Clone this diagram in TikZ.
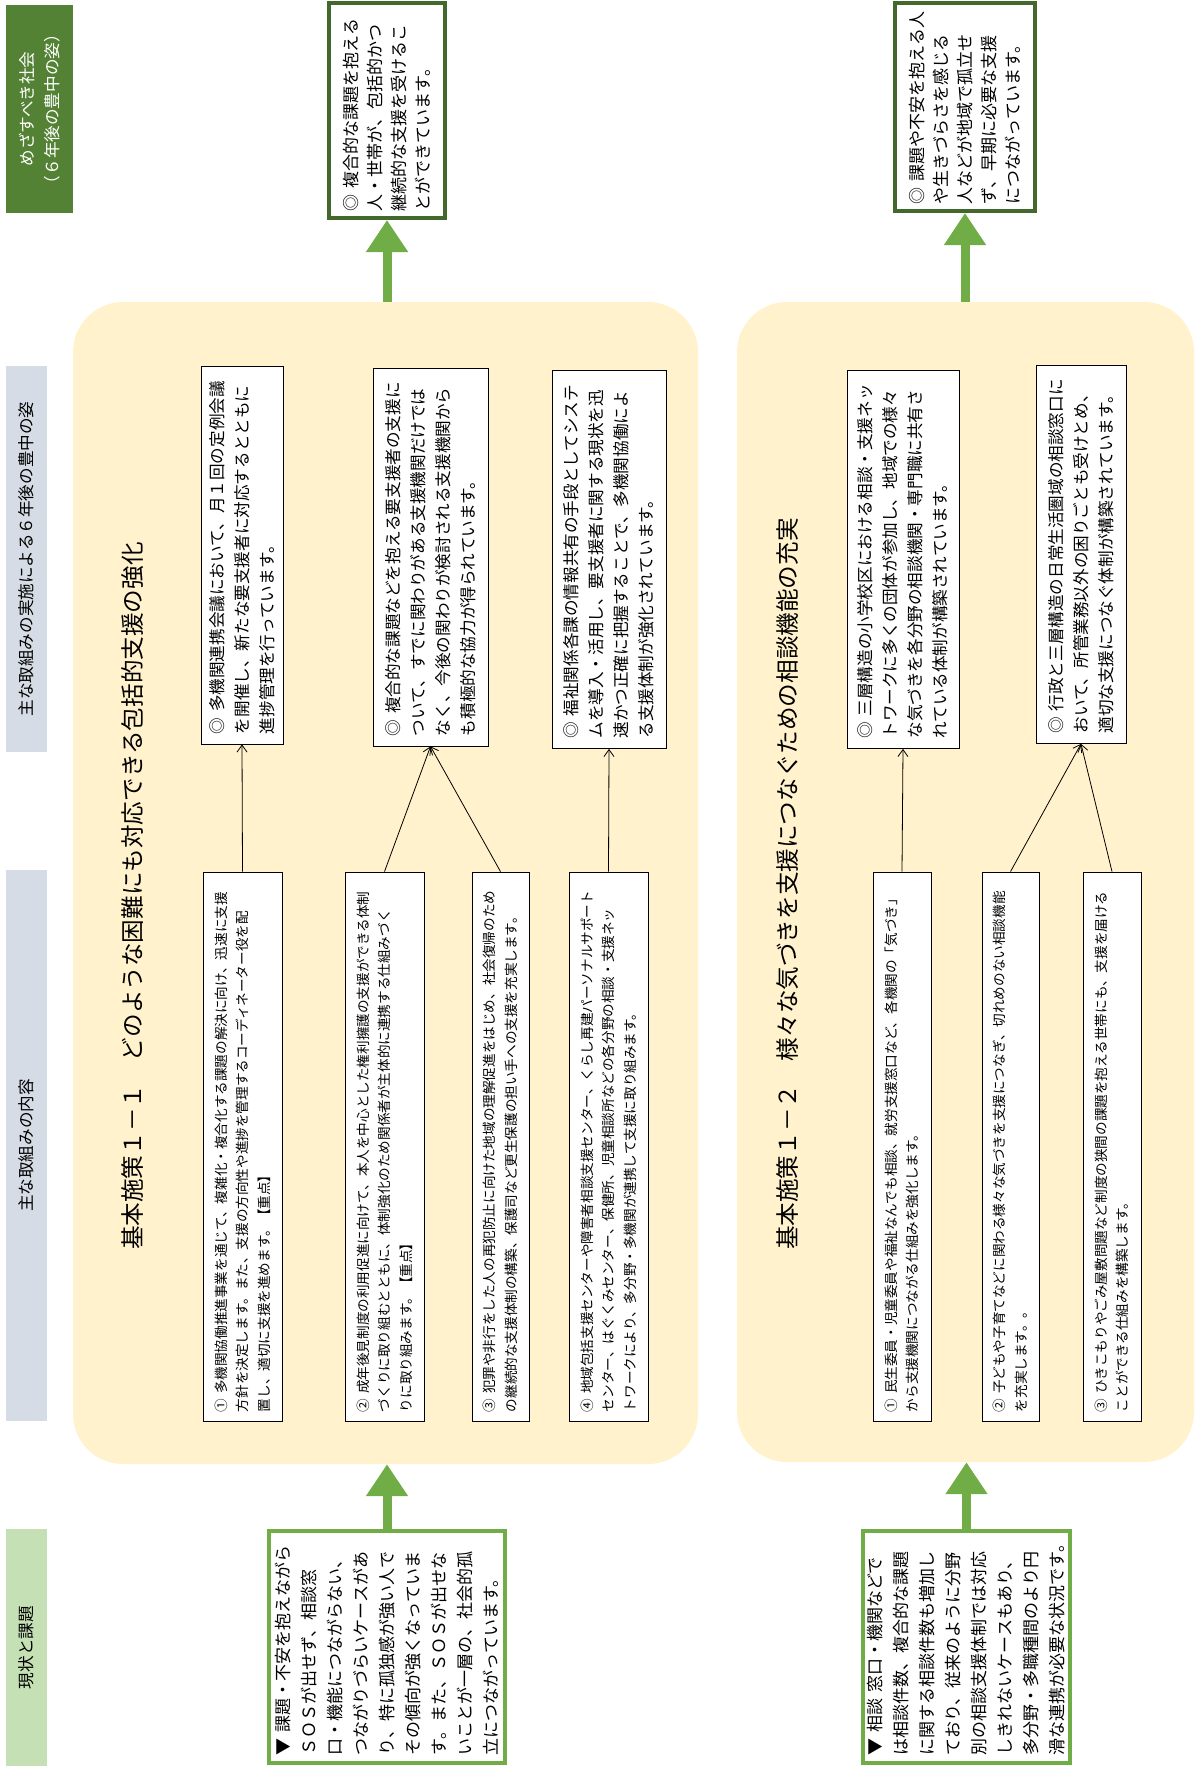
\documentclass[tikz,border=0pt]{standalone}
\usepackage{fontspec}
\setmainfont{Noto Sans CJK JP}
\usetikzlibrary{arrows.meta}
\definecolor{goalgreen}{HTML}{548235}
\definecolor{boxgreen}{HTML}{43682B}
\definecolor{arrowgreen}{HTML}{70AD47}
\definecolor{headblue}{HTML}{D6DCE5}
\definecolor{headgreen}{HTML}{C5E0B4}
\definecolor{panelyellow}{HTML}{FFF2CC}
\tikzset{
  hdr/.style={rotate=90, inner sep=0pt, align=center, font=\fontsize{16.6pt}{25pt}\selectfont},
  panel/.style={fill=panelyellow, rounded corners=50pt, inner sep=0pt},
  sectitle/.style={rotate=90, anchor=west, inner sep=0pt, font=\fontsize{23.6pt}{28pt}\selectfont},
  resbox/.style={draw, fill=white, line width=0.8pt, rotate=90, align=left, inner xsep=10pt, inner ysep=4pt,
    text width=358pt, minimum width=378pt, font=\fontsize{16.6pt}{25pt}\selectfont},
  actbox/.style={draw, fill=white, line width=0.8pt, rotate=90, align=left, inner xsep=9pt, inner ysep=4pt,
    text width=531pt, minimum width=549pt, font=\fontsize{13.6pt}{21.5pt}\selectfont},
  goalbox/.style={draw=boxgreen, line width=4pt, fill=white, rotate=90, align=left, inner xsep=7pt, inner ysep=4pt,
    font=\fontsize{17pt}{24pt}\selectfont},
  nowbox/.style={draw=arrowgreen, line width=3.5pt, fill=white, rotate=90, align=left, inner xsep=8pt, inner ysep=4pt,
    text width=216pt, minimum width=232pt, font=\fontsize{17pt}{26pt}\selectfont},
  conn/.style={line width=0.8pt, -{Straight Barb[length=7pt,width=10pt]}},
  garrow/.style={draw=arrowgreen, line width=9pt, -{Triangle[length=32pt,width=40pt]}}
}
\begin{document}
\begin{tikzpicture}[x=1pt,y=-1pt]
    \useasboundingbox (0,0) rectangle (1197,1766);
    \node[hdr, fill=goalgreen, text=white, minimum width=208pt, minimum height=67pt] (hGoal) at (39.5,109) {めざすべき社会\\（６年後の豊中の姿）};
    \node[hdr, fill=headblue, minimum width=386pt, minimum height=41pt] (hFuture) at (26.5,559) {主な取組みの実施による６年後の豊中の姿};
    \node[hdr, fill=headblue, minimum width=551pt, minimum height=41pt] (hAction) at (26.5,1145.5) {主な取組みの内容};
    \node[hdr, fill=headgreen, minimum width=237pt, minimum height=41pt] (hNow) at (26.5,1647.5) {現状と課題};

    \node[panel, minimum width=625pt, minimum height=1162pt] (pan1) at (385.5,883) {};
    \node[panel, minimum width=457pt, minimum height=1160pt] (pan2) at (965.5,882) {};
    \node[sectitle] (title1) at (133,1250) {基本施策１－１　どのような困難にも対応できる包括的支援の強化};
    \node[sectitle] (title2) at (788,1250) {基本施策１－２　様々な気づきを支援につなぐための相談機能の充実};

    \node[goalbox, text width=201pt, minimum width=215pt, minimum height=116pt] (goalA) at (387,110.5) {◎~複合的な課題を抱える\\人・世帯が、包括的かつ\\継続的な支援を受けるこ\\とができています。};
    \node[goalbox, text width=194pt, minimum width=208pt, minimum height=140pt] (goalB) at (965,107) {◎~課題や不安を抱える人\\や生きづらさを感じる\\人などが地域で孤立せ\\ず、早期に必要な支援\\につながっています。};

    \node[resbox, minimum height=82pt] (res1) at (242,555) {◎~多機関連携会議において、月１回の定例会議\\を開催し、新たな要支援者に対応するとともに\\進捗管理を行っています。};
    \node[resbox, minimum height=115pt] (res2) at (430.5,557) {◎~複合的な課題などを抱える要支援者の支援に\\ついて、すでに関わりがある支援機関だけでは\\なく、今後の関わりが検討される支援機関から\\も積極的な協力が得られています。};
    \node[resbox, minimum height=114pt] (res3) at (609,559.5) {◎~福祉関係各課の情報共有の手段としてシステ\\ムを導入・活用し、要支援者に関する現状を迅\\速かつ正確に把握することで、多機関協働によ\\る支援体制が強化されています。};
    \node[resbox, minimum height=112pt] (res4) at (903,559.5) {◎~三層構造の小学校区における相談・支援ネッ\\トワークに多くの団体が参加し、地域での様々\\な気づきを各分野の相談機関・専門職に共有さ\\れている体制が構築されています。};
    \node[resbox, minimum height=90pt] (res5) at (1081,554.5) {◎~行政と三層構造の日常生活圏域の相談窓口に\\おいて、所管業務以外の困りごとも受けとめ、\\適切な支援につなぐ体制が構築されています。};

    \node[actbox, minimum height=79pt] (act1) at (242.5,1146.5) {①~多機関協働推進事業を通じて、複雑化・複合化する課題の解決に向け、迅速に支援\\方針を決定します。また、支援の方向性や進捗を管理するコーディネーター役を配\\置し、適切に支援を進めます。【重点】};
    \node[actbox, minimum height=79pt] (act2) at (384.5,1146.5) {②~成年後見制度の利用促進に向けて、本人を中心とした権利擁護の支援ができる体制\\づくりに取り組むとともに、体制強化のため関係者が主体的に連携する仕組みづく\\りに取り組みます。【重点】};
    \node[actbox, minimum height=57pt] (act3) at (500.5,1146.5) {③~犯罪や非行をした人の再犯防止に向けた地域の理解促進をはじめ、社会復帰のため\\の継続的な支援体制の構築、保護司など更生保護の担い手への支援を充実します。};
    \node[actbox, minimum height=79pt] (act4) at (608.5,1146.5) {④~地域包括支援センターや障害者相談支援センター、くらし再建パーソナルサポート\\センター、はぐくみセンター、保健所、児童相談所などの各分野の相談・支援ネッ\\トワークにより、多分野・多機関が連携して支援に取り組みます。};
    \node[actbox, minimum height=58pt] (act5) at (902,1146.5) {①~民生委員・児童委員や福祉なんでも相談、就労支援窓口など、各機関の「気づき」\\から支援機関につながる仕組みを強化します。};
    \node[actbox, minimum height=57pt] (act6) at (1010.5,1146.5) {②~子どもや子育てなどに関わる様々な気づきを支援につなぎ、切れめのない相談機能\\を充実します。。};
    \node[actbox, minimum height=58pt] (act7) at (1112,1146.5) {③~ひきこもりやごみ屋敷問題など制度の狭間の課題を抱える世帯にも、支援を届ける\\ことができる仕組みを構築します。};

    \node[nowbox, minimum height=236pt] (curC) at (387,1647) {▼~課題・不安を抱えながら\\ＳＯＳが出せず、相談窓\\口・機能につながらない、\\つながりづらいケースがあ\\り、特に孤独感が強い人で\\その傾向が強くなっていま\\す。また、ＳＯＳが出せな\\いことが一層の、社会的孤\\立につながっています。};
    \node[nowbox, minimum height=207pt] (curD) at (966.5,1647) {▼~相談~窓口・機関などで\\は相談件数、複合的な課題\\に関する相談件数も増加し\\ており、従来のように分野\\別の相談支援体制では対応\\しきれないケースもあり、\\多分野・多職種間のより円\\滑な連携が必要な状況です。};

    \draw[conn] (act1.east) -- (res1.west);
    \draw[conn] (act2.east) -- (res2.west);
    \draw[conn] (act3.east) -- (res2.west);
    \draw[conn] (act4.east) -- (res3.west);
    \draw[conn] (act5.east) -- (res4.west);
    \draw[conn] (act6.east) -- (res5.west);
    \draw[conn] (act7.east) -- (res5.west);

    \draw[garrow] (pan1.north -| goalA.west) -- (goalA.west);
    \draw[garrow] (pan2.north -| goalB.west) -- (goalB.west);
    \draw[garrow] (curC.east) -- (curC.east |- pan1.south);
    \draw[garrow] (curD.east) -- (curD.east |- pan2.south);
\end{tikzpicture}
\end{document}
